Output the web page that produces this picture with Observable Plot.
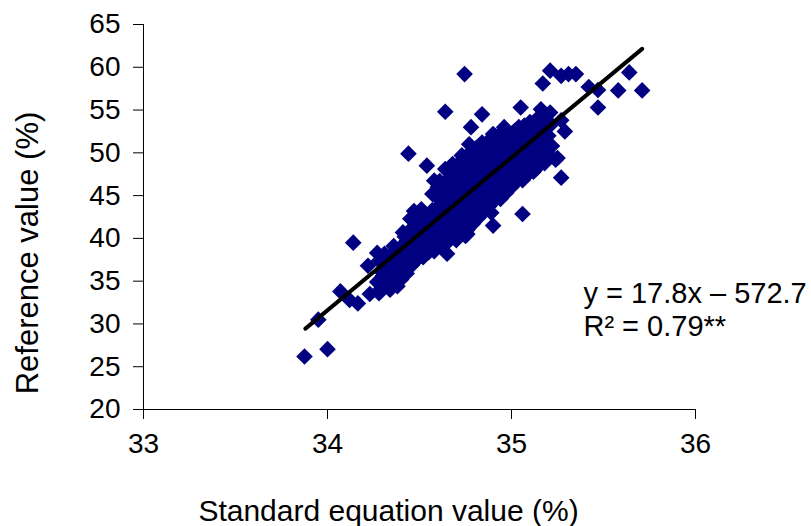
<!DOCTYPE html>
<html>
<head>
<meta charset="utf-8">
<script src="https://cdn.jsdelivr.net/npm/d3@7"></script>
<script src="https://cdn.jsdelivr.net/npm/@observablehq/plot@0.6"></script>
<style>
  html, body { margin: 0; padding: 0; background: #fff; }
  svg { display: block; }
</style>
</head>
<body>
<div id="chart"></div>
<script>
// Tick values
const xTicks = [33, 34, 35, 36];
const yTicks = [20, 25, 30, 35, 40, 45, 50, 55, 60, 65];

// Scattered / outlying points [standard equation value, reference value]
const outerPoints = [
  [33.875, 26.2], [34.00, 27.05], [33.95, 30.5], [34.07, 33.8], [34.12, 32.8],
  [34.165, 32.4], [34.14, 39.5], [34.22, 36.8], [34.27, 38.3], [34.23, 33.5],
  [34.29, 34.1], [34.34, 35.8], [34.38, 34.4], [34.32, 35.05], [34.45, 42.3],
  [34.41, 40.7], [34.43, 37.6], [34.52, 37.8], [34.54, 39.3], [34.65, 38.2],
  [34.61, 40.5], [34.69, 40.1], [34.76, 40.5], [34.58, 42.85], [34.69, 42.85],
  [34.80, 43.2], [34.65, 43.6], [34.51, 43.4], [34.76, 42.1], [34.44, 49.9],
  [34.54, 48.5], [34.68, 48.7], [34.73, 49.7], [34.58, 46.75], [34.64, 46.4],
  [34.57, 45.2], [34.69, 45.2], [34.63, 44.0], [34.54, 40.9], [34.67, 42.45],
  [34.63, 39.7], [34.745, 59.2], [34.64, 54.8], [34.78, 53.0], [34.77, 51.0],
  [35.21, 59.6], [35.27, 59.0], [35.31, 59.2], [35.35, 59.2], [35.17, 58.1],
  [35.05, 55.3], [34.84, 54.5], [35.16, 55.1], [35.21, 54.7], [35.27, 53.8],
  [35.29, 52.5], [35.14, 54.0], [34.96, 53.0], [35.02, 52.6], [34.90, 52.2],
  [34.98, 51.4], [35.09, 52.2], [35.16, 52.2], [35.21, 50.7], [34.83, 50.3],
  [34.90, 49.9], [35.05, 49.9], [35.12, 50.3], [35.25, 49.4], [35.42, 57.7],
  [35.47, 57.35], [35.64, 59.4], [35.58, 57.3], [35.71, 57.3], [35.47, 55.3],
  [35.24, 49.2], [35.27, 47.1], [34.89, 43.0], [35.06, 42.85], [34.90, 41.5],
  [34.75, 40.3]
];

// Dense core of the cloud [standard equation value, reference value]
const corePoints = [
  [34.28, 33.6], [34.27, 34.9], [34.29, 36.2], [34.28, 37.4],
  [34.34, 34.0], [34.35, 35.3], [34.33, 36.6], [34.34, 37.9], [34.36, 39.1],
  [34.40, 35.2], [34.41, 36.5], [34.39, 37.8], [34.40, 39.0], [34.42, 40.2],
  [34.46, 36.9], [34.47, 38.2], [34.45, 39.5], [34.46, 40.8], [34.48, 42.0], [34.47, 43.2],
  [34.52, 39.0], [34.53, 40.2], [34.51, 41.5], [34.52, 42.7],
  [34.58, 38.5], [34.59, 39.8], [34.57, 41.1], [34.58, 42.3], [34.60, 43.6], [34.59, 44.9], [34.60, 46.0],
  [34.64, 39.3], [34.65, 40.6], [34.63, 41.9], [34.64, 43.2], [34.66, 44.5], [34.65, 45.8], [34.66, 47.0], [34.64, 48.1],
  [34.70, 39.8], [34.71, 41.1], [34.69, 42.4], [34.70, 43.7], [34.72, 45.0], [34.71, 46.3], [34.70, 47.6], [34.72, 48.9],
  [34.76, 41.0], [34.77, 42.3], [34.75, 43.6], [34.76, 44.9], [34.78, 46.2], [34.77, 47.5], [34.76, 48.8], [34.78, 50.0],
  [34.82, 42.4], [34.83, 43.7], [34.81, 45.0], [34.82, 46.3], [34.84, 47.6], [34.83, 48.9], [34.82, 50.1], [34.84, 51.2],
  [34.88, 43.8], [34.89, 45.1], [34.87, 46.4], [34.88, 47.7], [34.90, 49.0], [34.89, 50.3], [34.88, 51.5],
  [34.94, 44.6], [34.95, 45.9], [34.93, 47.2], [34.94, 48.5], [34.96, 49.8], [34.95, 51.1], [34.94, 52.3],
  [35.00, 46.0], [35.01, 47.3], [34.99, 48.6], [35.00, 49.9], [35.02, 51.2], [35.01, 52.4],
  [35.06, 46.8], [35.07, 48.1], [35.05, 49.4], [35.06, 50.7], [35.08, 52.0], [35.07, 53.2],
  [35.12, 47.8], [35.13, 49.1], [35.11, 50.4], [35.12, 51.6], [35.14, 52.9],
  [35.18, 48.8], [35.19, 50.1], [35.17, 51.4], [35.18, 52.7], [35.19, 53.9]
];

// Further core points, filling between the above
const corePoints2 = [
  [34.31, 34.3], [34.30, 35.6], [34.32, 36.9], [34.31, 38.2],
  [34.37, 34.7], [34.38, 36.0], [34.36, 37.3], [34.37, 38.5],
  [34.43, 35.9], [34.44, 37.2], [34.42, 38.5], [34.43, 39.7], [34.45, 41.0],
  [34.49, 37.6], [34.50, 38.9], [34.48, 40.1], [34.49, 41.4], [34.51, 42.6],
  [34.55, 38.4], [34.56, 39.6], [34.54, 40.9], [34.55, 42.1], [34.57, 43.3],
  [34.61, 39.2], [34.62, 40.5], [34.60, 41.7], [34.61, 43.0], [34.63, 44.2], [34.62, 45.5], [34.61, 46.7],
  [34.67, 40.0], [34.68, 41.3], [34.66, 42.6], [34.67, 43.9], [34.69, 45.2], [34.68, 46.5], [34.67, 47.7],
  [34.73, 40.5], [34.74, 41.8], [34.72, 43.1], [34.73, 44.4], [34.75, 45.7], [34.74, 47.0], [34.73, 48.3], [34.75, 49.5],
  [34.79, 41.7], [34.80, 43.0], [34.78, 44.3], [34.79, 45.6], [34.81, 46.9], [34.80, 48.2], [34.79, 49.5], [34.81, 50.6],
  [34.85, 43.1], [34.86, 44.4], [34.84, 45.7], [34.85, 47.0], [34.87, 48.3], [34.86, 49.6], [34.85, 50.8],
  [34.91, 44.5], [34.92, 45.8], [34.90, 47.1], [34.91, 48.4], [34.93, 49.7], [34.92, 51.0], [34.91, 52.0],
  [34.97, 45.3], [34.98, 46.6], [34.96, 47.9], [34.97, 49.2], [34.99, 50.5], [34.98, 51.7],
  [35.03, 46.7], [35.04, 48.0], [35.02, 49.3], [35.03, 50.6], [35.05, 51.8], [35.04, 53.0],
  [35.09, 47.5], [35.10, 48.8], [35.08, 50.1], [35.09, 51.3], [35.11, 52.6], [35.10, 53.6],
  [35.15, 48.5], [35.16, 49.8], [35.14, 51.0], [35.15, 52.2], [35.17, 53.4],
  [35.21, 49.5], [35.22, 50.8], [35.20, 52.0], [35.21, 53.2]
];

// Regression line end points
const trendX = [33.88, 35.71];
const trendY = [29.45, 62.15];

// Annotation
const eqText = ["y = 17.8x \u2013 572.7", "R\u00B2 = 0.79**"];
const eqX = [35.391, 35.391];
const eqY = [33.5, 29.7];

const xTitle = "Standard equation value (%)";
const yTitle = "Reference value (%)";

const points = outerPoints.concat(corePoints, corePoints2).map(([x, y]) => ({x, y}));
const trend = trendX.map((x, i) => ({x, y: trendY[i]}));
const eq = eqText.map((t, i) => ({t, x: eqX[i], y: eqY[i]}));

const FONT = "'Liberation Sans', Arial, sans-serif";

const chart = Plot.plot({
  width: 811,
  height: 526,
  marginLeft: 143,
  marginRight: 116,
  marginTop: 24,
  marginBottom: 117,
  style: {fontFamily: FONT, fontSize: "28px", color: "#000", background: "#fff", overflow: "visible"},
  x: {domain: [33, 36]},
  y: {domain: [20, 65]},
  marks: [
    Plot.ruleY([20], {stroke: "#000", strokeWidth: 1}),
    Plot.ruleX([33], {stroke: "#000", strokeWidth: 1}),
    Plot.axisX({ticks: xTicks, tickSize: 10, tickPadding: 14, label: null, fontSize: 28, tickFormat: d => String(d)}),
    Plot.axisY({ticks: yTicks, tickSize: 10, tickPadding: 13, label: null, fontSize: 28, tickFormat: d => String(d)}),
    Plot.dot(points, {x: "x", y: "y", symbol: "diamond2", r: 7.5, fill: "#000080"}),
    Plot.line(trend, {x: "x", y: "y", stroke: "#000", strokeWidth: 4, strokeLinecap: "round"}),
    Plot.text(eq, {x: "x", y: "y", text: "t", textAnchor: "start", fontSize: 29, fill: "#000"}),
    Plot.text([xTitle], {frameAnchor: "bottom", dx: -31, dy: 111, fontSize: 30, fill: "#000"})
  ]
});

// Y axis title (rotated), placed in the left margin
d3.select(chart).append("text")
  .attr("transform", "translate(27,253) rotate(-90)")
  .attr("text-anchor", "middle")
  .attr("dy", "0.35em")
  .attr("font-family", FONT)
  .attr("font-size", 31)
  .attr("fill", "#000")
  .text(yTitle);

document.getElementById("chart").appendChild(chart);
</script>
</body>
</html>
